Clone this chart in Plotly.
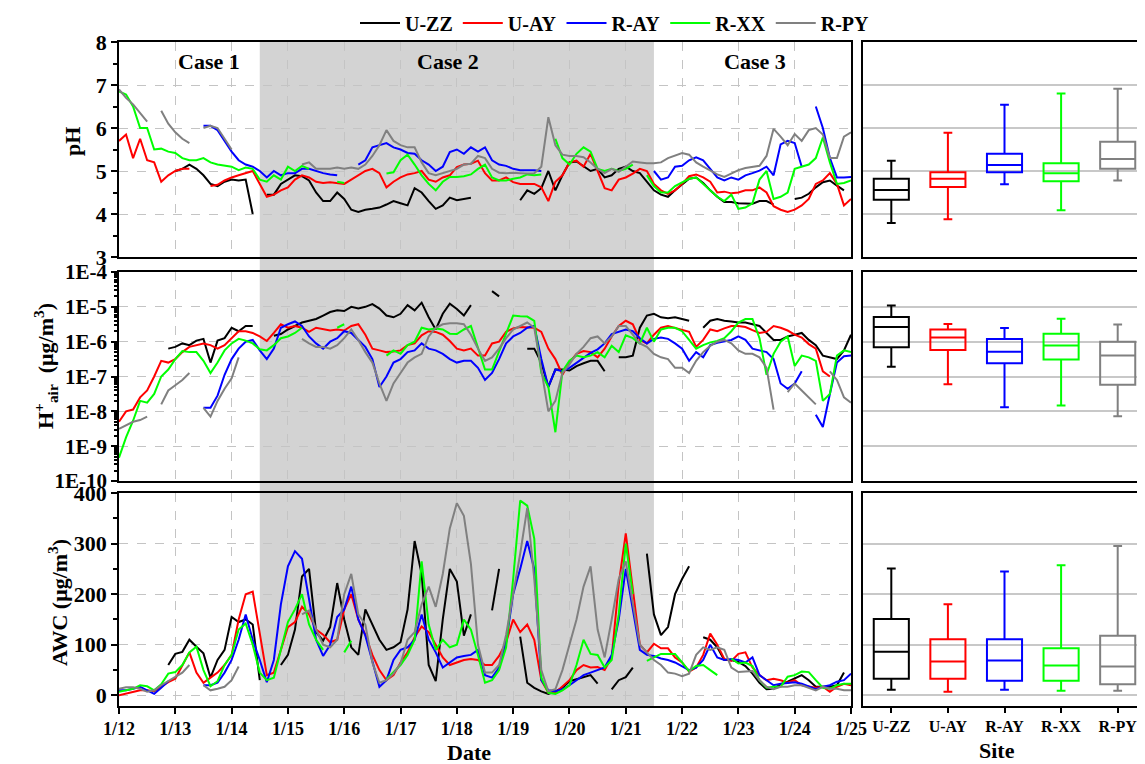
import plotly.graph_objects as go

N = None
W, H = 1145, 764
PAGE_OFF = 8  # the page body adds an 8px margin around the figure
FONT = "Liberation Serif"

date_labels = ["1/12", "1/13", "1/14", "1/15", "1/16", "1/17", "1/18",
               "1/19", "1/20", "1/21", "1/22", "1/23", "1/24", "1/25"]
sites = ["U-ZZ", "U-AY", "R-AY", "R-XX", "R-PY"]
site_colors = ["#000000", "#ff0000", "#0000ff", "#00ff00", "#808080"]
step_hours = 3  # sampling step of the series below (one row = one day)

# ---------------- pH (3-hourly, from 1/12 00:00 to 1/25 00:00) ----------------
ph_uzz = [N, N, N, N, N, N, N, N,
          5.0, 5.05, 5.15, 5.05, 4.9, 4.7, 4.65, 4.75,
          4.8, 4.78, 4.8, 4.0, N, 4.45, 4.45, 4.7,
          4.8, 4.9, 4.88, 4.78, 4.5, 4.3, 4.3, 4.5,
          4.35, 4.1, 4.05, 4.1, 4.12, 4.15, 4.22, 4.3,
          4.25, 4.2, 4.6, 4.5, 4.3, 4.12, 4.2, 4.38,
          4.32, 4.35, 4.38, N, N, N, N, N,
          N, 4.32, 4.55, 4.47, 4.6, 5.0, 4.55, 4.9,
          5.2, 5.22, 5.1, 5.0, 5.05, 4.85, 4.9, 5.05,
          5.1, 5.0, 4.95, 4.75, 4.55, 4.45, 4.4, 4.55,
          4.68, 4.82, 4.85, 4.72, 4.55, 4.4, 4.28, 4.28,
          4.25, 4.24, 4.24, 4.3, 4.3, 4.22, N, N,
          4.35, 4.38, 4.47, 4.62, 4.74, 4.78, 4.66, 4.55,
          N]
ph_uay = [5.7, 5.85, 5.3, 5.75, 5.25, 5.2, 4.75, 4.9,
          5.0, 5.05, 5.05, N, N, 4.65, 4.68, 4.78,
          4.85, 4.9, 4.95, 5.0, 4.7, 4.4, 4.45, 4.55,
          4.62, 4.8, 4.9, 4.85, 4.75, 4.72, 4.74, 4.72,
          4.7, 4.8, 4.9, 5.0, 5.05, 4.95, 4.62, 4.75,
          4.85, 4.92, 4.95, 5.0, 4.8, 4.75, 4.85, 4.9,
          5.09, 5.15, 5.17, 5.24, 4.95, 4.78, 4.78, 4.85,
          4.74, 4.7, 4.7, 4.7, 4.62, 4.3, 4.75, 4.9,
          5.2, 5.24, 5.1, 5.4, 5.0, 4.6, 4.55, 4.8,
          4.85, 4.94, 5.05, 5.0, 4.7, 4.55, 4.47, 4.55,
          4.7, 4.88, 4.92, 4.85, 4.75, 4.5, 4.52, 4.48,
          4.5, 4.55, 4.55, 4.62, 4.5, 4.18, 4.1, 4.05,
          4.1, 4.2, 4.35, 4.7, 4.78, 4.95, 4.7, 4.2,
          4.35]
ph_ray = [N, N, N, N, N, N, N, N,
          N, N, N, N, 6.05, 6.05, 5.95, 5.7,
          5.45, 5.25, 5.15, 5.1, 5.0, 4.85, 5.0, 4.9,
          4.95, 4.95, 5.05, 5.05, 5.0, 4.95, 4.92, 4.9,
          N, N, 5.15, 5.25, 5.55, 5.6, 5.65, 5.55,
          5.5, 5.42, 5.4, 5.25, 5.15, 5.0, 5.1, 5.44,
          5.5, 5.4, 5.55, 5.45, 5.55, 5.25, 5.15, 5.12,
          5.05, 5.02, 5.02, 5.02, 5.0, N, N, N,
          N, N, N, N, N, N, N, N,
          N, N, N, N, 5.0, 4.8, 4.85, 5.1,
          5.12, 5.25, 5.32, 5.25, 5.05, 4.85, 4.78, 4.85,
          4.8, 4.9, 4.95, 5.01, 5.1, 4.9, 5.62, 5.7,
          5.65, 5.1, N, 6.5, 6.0, 5.3, 4.85, 4.85,
          4.86]
ph_rxx = [6.85, 6.78, 6.5, 6.0, 6.0, 5.5, 5.52, 5.45,
          5.42, 5.3, 5.25, 5.25, 5.3, 5.2, 5.15, 5.12,
          5.1, 5.02, 5.08, 5.05, 4.8, 4.75, 4.9, 4.8,
          5.1, 5.0, 5.12, 5.05, N, N, N, 4.75,
          4.72, N, N, N, N, N, 4.94, 4.97,
          5.25, 5.38, 5.15, 4.9, 4.7, 4.55, 4.75, 4.86,
          4.86, 4.88, 4.92, 5.05, 5.15, 4.85, 4.78, 4.78,
          4.82, 4.85, 4.92, 4.9, 4.92, N, 5.75, 5.3,
          5.15, 5.4, 5.55, 5.45, 5.05, 5.0, 5.05, 5.0,
          5.05, 5.15, N, 4.9, 4.65, 4.5, 4.5, 4.65,
          4.74, 4.82, 4.85, 4.7, 4.55, 4.4, 4.3, 4.45,
          4.12, 4.15, 4.25, 4.8, 5.0, 4.35, 4.4, 4.5,
          5.05, 5.1, 5.15, 5.3, 5.78, 5.2, 4.7, 4.72,
          4.78]
ph_rpy = [6.9, 6.7, 6.55, 6.35, 6.15, N, 6.4, 6.1,
          5.9, 5.75, 5.65, N, 6.0, 6.05, 6.0, 5.75,
          5.5, N, N, N, N, N, N, N,
          N, N, 5.15, 5.2, 5.05, 5.05, 5.05, 5.08,
          5.05, 5.08, 5.05, 5.15, 5.35, 5.6, 5.95, 5.7,
          5.6, 5.55, 5.55, 5.2, 4.95, 4.9, 4.95, 5.0,
          5.05, 5.15, 5.17, 5.35, 5.3, 5.05, 4.96, 4.95,
          4.96, 4.95, 4.94, 4.95, 5.1, 6.25, 5.6, 5.38,
          5.35, 5.35, 5.32, 5.2, 5.05, 4.95, 5.05, 4.98,
          5.1, 5.22, 5.2, 5.18, 5.18, 5.2, 5.3, 5.36,
          5.42, 5.38, 5.2, 5.1, 5.0, 4.92, 4.86, 4.95,
          5.02, 5.07, 5.1, 5.12, 5.35, 5.98, 5.8, 5.6,
          5.86, 5.7, 5.95, 6.0, 5.85, 5.3, 5.3, 5.8,
          5.9]

# ---------------- H+air, log10(ug/m3) ----------------
hair_log_uzz = [N, N, N, N, N, N, N, -6.2,
                -6.15, -6.05, -6.1, -5.97, -5.92, -6.6, -5.97, -5.9,
                -5.6, -5.7, -5.55, -5.55, N, N, -5.83, -5.78,
                -5.65, -5.55, -5.45, -5.4, -5.35, -5.25, -5.15, -5.1,
                -5.12, -5.0, -5.05, -5.0, -4.92, -5.05, -5.25, -5.3,
                -5.2, -4.95, -5.1, -4.88, -5.3, -5.65, -5.2, -4.91,
                -5.06, -5.25, -4.95, N, N, -4.55, -4.7, N,
                N, N, -6.2, -6.2, -6.6, -7.3, -6.8, -6.8,
                -6.83, -6.7, -6.62, -6.55, -6.55, -6.85, N, -6.45,
                -6.45, -6.4, -5.6, -5.25, -5.2, -5.3, -5.33, -5.3,
                -5.35, -5.4, N, -5.6, -5.4, -5.35, -5.4, -5.42,
                -5.45, -5.45, -5.5, -5.55, -5.75, -5.95, -5.95, -5.85,
                -5.8, -5.75, -5.95, -6.1, -6.4, -6.45, -6.5, -6.25,
                -5.8]
hair_log_uay = [-8.3, -8.0, -7.95, -7.6, -7.4, -7.0, -6.55, -6.6,
                -6.5, -6.3, -6.15, -6.1, -6.05, -6.1, -6.2, -6.1,
                -5.9, -5.7, -5.7, -5.75, -5.85, -5.98, -5.75, -5.5,
                -5.6, -5.55, -5.6, -5.72, -5.6, -5.65, -5.68, -5.65,
                -5.68, -5.55, -5.5, -5.8, -6.2, -6.25, -6.3, -6.28,
                -6.25, -6.1, -6.05, -5.82, -5.7, -5.72, -5.8, -5.98,
                -6.2, -6.25, -6.2, -6.4, -6.4, -6.05, -6.0, -5.72,
                -5.62, -5.58, -5.58, -5.6, -5.72, -6.2, -6.5, -6.95,
                -6.6, -6.35, -6.27, -6.3, -6.45, -6.2, -5.85, -5.55,
                -5.4, -5.5, -5.95, -6.05, -5.8, -5.6, -5.55, -5.6,
                -5.66, -5.72, -6.15, -5.95, -5.65, -5.7, -5.62, -5.55,
                -5.55, -5.58, -5.67, -5.75, -5.72, -5.55, -5.6, -5.68,
                -5.8, -5.88, -6.07, -6.2, -6.85, -7.0, N, N,
                N]
hair_log_ray = [N, N, N, N, N, N, N, N,
                N, N, N, N, -7.9, -7.9, -7.55, -6.95,
                -6.5, -6.2, -6.0, -5.95, -6.25, -6.5, -6.2, -5.6,
                -5.5, -5.42, -5.55, -5.85, -6.05, -6.2, -6.0, -5.9,
                -5.7, -5.75, -5.95, -6.15, -6.5, -7.3, -7.0, -6.6,
                -6.5, -6.3, -6.25, -6.05, -6.2, -6.25, -6.35, -6.5,
                -6.6, -6.55, -6.55, -6.75, -7.1, -6.9, -6.5, -6.05,
                -5.85, -5.75, -5.6, -5.55, -6.5, -7.3, -6.8, -6.85,
                -6.75, -6.6, -6.45, -6.32, -6.22, -6.05, -5.78, -5.72,
                -5.65, -5.7, -5.9, -6.05, -5.92, -5.88, -5.92, -6.05,
                -6.2, -6.55, -6.3, -6.45, -6.1, -6.03, -6.0, -5.95,
                -5.85, -5.95, -6.2, -6.25, -6.3, -6.5, -7.2, -7.35,
                -7.2, -6.85, N, -8.1, -8.45, -7.5, -6.6, -6.42,
                -6.4]
hair_log_rxx = [-9.33, -8.75, -8.27, -7.7, -7.75, -7.5, -7.0, -6.8,
                -6.5, -6.27, -6.3, -6.3, -6.55, -6.9, -6.6, -6.25,
                -6.05, -5.92, -5.97, -6.05, -6.22, -6.25, -6.1, -5.9,
                -5.85, -5.75, -5.6, N, N, N, N, -5.6,
                -5.5, N, N, N, N, N, -6.4, -6.25,
                -6.35, -6.1, -6.0, -5.6, -5.65, -5.62, -5.65, -5.77,
                -5.78, -5.65, -5.55, -6.15, -6.8, -6.8, -6.3, -5.8,
                -5.25, -5.27, -5.28, -5.4, -6.9, -7.3, -8.6, -6.85,
                -6.55, -6.4, -6.45, -6.4, -6.3, -6.45, -6.12, -6.3,
                -5.82, -5.9, -6.05, -5.6, -6.0, -5.65, -5.6, -5.6,
                -5.7, -5.95, -6.2, -6.1, -6.02, -5.98, -5.9, -5.7,
                -5.45, -5.35, -5.35, -5.9, -6.95, -6.35, -6.0, -5.85,
                -6.7, -6.4, -6.45, -6.55, -7.7, -7.5, -6.4, -6.25,
                -6.3]
hair_log_rpy = [-8.5, -8.4, -8.3, -8.25, -8.15, N, -7.8, -7.4,
                -7.25, -7.1, -6.9, N, -7.9, -8.15, -7.7, -7.35,
                -7.05, -6.45, N, N, N, N, N, N,
                N, N, -5.92, -6.05, -6.15, -6.15, -6.2, -6.1,
                -5.9, -5.65, -5.95, -6.3, -6.6, -7.2, -7.7, -7.2,
                -6.9, -6.6, -6.45, -6.35, -5.85, -5.6, -5.5, -5.47,
                -5.47, -5.5, -5.8, -6.2, -6.55, -6.45, -6.2, -5.9,
                -5.65, -5.55, -5.45, -5.6, -6.8, -8.0, -7.7, -6.9,
                -6.65, -6.35, -6.15, -5.9, -5.85, -6.05, -5.85, -5.55,
                -5.55, -5.8, -6.05, -6.15, -6.35, -6.45, -6.5, -6.75,
                -6.75, -6.9, -6.55, -6.3, -6.12, -6.0, -5.95, -6.05,
                -6.25, -6.35, -6.35, -6.45, -6.75, -7.95, N, -7.45,
                -7.2, -7.4, -7.6, -7.8, N, -6.85, -7.1, -7.6,
                -7.75]

# ---------------- AWC (ug/m3) ----------------
awc_uzz = [N, N, N, N, N, N, N, 60,
           82, 86, 110, 96, 83, 35, 70, 90,
           155, 145, 150, 140, 30, N, N, 60,
           80, 130, 235, 250, 125, 108, 135, 222,
           150, 95, 80, 170, 140, 110, 90, 95,
           105, 170, 305, 240, 60, 28, 150, 250,
           225, 118, 160, N, N, 168, 250, N,
           N, 116, 25, 15, 8, 3, 8, 15,
           28, 32, 36, 40, 23, N, 12, 30,
           36, 55, N, 280, 160, 119, 135, 200,
           230, 255, N, 115, 110, 95, 70, 70,
           66, 58, 43, 25, 12, 13, 22, 27,
           33, 40, 30, 17, 17, 17, 20, 45,
           N]
awc_uay = [0, 3, 7, 10, 10, 8, 17, 26,
           33, 60, 85, 45, 25, 35, 45, 60,
           80, 150, 200, 205, 120, 40, 45, 90,
           135, 145, 175, 160, 130, 120, 105, 110,
           170, 200, 150, 120, 80, 50, 30, 40,
           65, 85, 115, 136, 125, 100, 75, 60,
           65, 70, 72, 70, 60, 60, 78, 105,
           150, 125, 140, 110, 30, 5, 5, 18,
           30, 50, 60, 55, 56, 50, 75, 220,
           320, 210, 100, 85, 102, 93, 93, 75,
           65, 47, 55, 80, 122, 100, 72, 68,
           82, 85, 55, 40, 30, 33, 30, 25,
           30, 20, 17, 15, 17, 7, 17, 23,
           20]
awc_ray = [10, 10, 13, 17, 10, 3, 15, 28,
           N, N, N, N, 20, 20, 25, 45,
           70, 110, 160, 110, 70, 26, 70, 180,
           255, 285, 270, 190, 110, 78, 100, 155,
           170, 215, 150, 118, 70, 17, 30, 70,
           90, 95, 110, 160, 110, 85, 55, 65,
           75, 78, 80, 90, 40, 35, 55, 105,
           200, 250, 305, 250, 30, 10, 8, 12,
           20, 30, 40, 45, 50, 55, 80, 150,
           250, 170, 90, 80, 78, 73, 70, 65,
           58, 50, 55, 70, 100, 75, 70, 72,
           70, 65, 75, 40, 30, 20, 23, 24,
           26, 23, 17, 12, 17, 20, 27, 30,
           43]
awc_rxx = [7, 10, 13, 20, 18, 10, 22, 43,
           46, 60, 85, 96, 50, 18, 28, 60,
           80, 130, 142, 100, 45, 30, 35, 90,
           145, 170, 200, 140, 110, 90, N, N,
           85, 108, N, N, N, N, 32, 45,
           60, 80, 110, 265, 140, 90, 110, 95,
           100, 150, 130, 80, 25, 30, 50, 95,
           230, 385, 375, 310, 35, 5, 3, 10,
           20, 60, 110, 82, 80, 55, 70, 160,
           300, 200, N, 68, 75, 82, 82, 82,
           65, 48, 58, 60, 50, 40, N, 73,
           63, 65, 58, 30, 15, 17, 17, 37,
           40, 47, 46, 30, 15, 13, 20, 23,
           23]
awc_rpy = [13, 16, 16, 13, 7, 10, 20, 28,
           36, 45, 60, N, 20, 10, 13, 17,
           30, 57, N, N, N, N, N, N,
           N, N, 160, 168, 130, 100, 95, 110,
           200, 240, 160, 140, 65, 25, 30, 43,
           63, 110, 125, 180, 215, 175, 240, 330,
           380, 355, 260, 100, 45, 45, 60, 120,
           200, 280, 370, 230, 50, 8, 12, 50,
           100, 150, 215, 255, 130, 75, 150, 230,
           265, 180, 100, 85, 70, 60, 45, 43,
           38, 43, 80, 95, 90, 95, 90, 55,
           46, 47, 48, 30, 17, 12, 17, 17,
           20, 20, 15, 10, 17, 13, 13, 10,
           10]

# ---------------- box statistics (lower whisker, Q1, median, Q3, upper whisker) -------
ph_box_low = [3.79, 3.88, 4.69, 4.09, 4.78]
ph_box_q1 = [4.33, 4.63, 4.97, 4.76, 5.05]
ph_box_med = [4.56, 4.82, 5.14, 4.95, 5.28]
ph_box_q3 = [4.82, 4.97, 5.40, 5.18, 5.68]
ph_box_high = [5.24, 5.89, 6.54, 6.80, 6.91]

hair_box_low_log = [-6.72, -7.22, -7.88, -7.83, -8.14]
hair_box_q1_log = [-6.16, -6.24, -6.62, -6.51, -7.24]
hair_box_med_log = [-5.58, -5.88, -6.29, -6.11, -6.40]
hair_box_q3_log = [-5.29, -5.65, -5.92, -5.77, -6.00]
hair_box_high_log = [-4.96, -5.49, -5.61, -5.34, -5.51]

awc_box_low = [11, 7, 11, 9, 9]
awc_box_q1 = [33, 33, 29, 29, 22]
awc_box_med = [86, 67, 69, 59, 57]
awc_box_q3 = [151, 111, 111, 93, 118]
awc_box_high = [251, 180, 245, 257, 295]

case_labels = ["Case 1", "Case 2", "Case 3"]
case_centers = [1.6, 5.85, 11.3]
case2_span = [2.5, 9.5]

hair_ticks = ["1E-10", "1E-9", "1E-8", "1E-7", "1E-6", "1E-5", "1E-4"]

# ------------------------------------------------------------------------------
def exp10(vals):
    return [None if v is None else 10 ** v for v in vals]


def xp(px):
    """page pixel x -> paper fraction"""
    return (px - PAGE_OFF) / W


def yp(py):
    """page pixel y (from top) -> paper fraction"""
    return 1 - (py - PAGE_OFF) / H


ph_series = [ph_uzz, ph_uay, ph_ray, ph_rxx, ph_rpy]
hair_series = [exp10(s) for s in [hair_log_uzz, hair_log_uay, hair_log_ray,
                                  hair_log_rxx, hair_log_rpy]]
awc_series = [awc_uzz, awc_uay, awc_ray, awc_rxx, awc_rpy]

n_pts = len(ph_uzz)
t_days = [k * step_hours / 24 for k in range(n_pts)]

fig = go.Figure()

for i, site in enumerate(sites):
    c = site_colors[i]
    fig.add_trace(go.Scatter(x=t_days, y=ph_series[i], mode="lines", name=site,
                             line=dict(color=c, width=2), legendgroup=site,
                             xaxis="x", yaxis="y"))
    fig.add_trace(go.Scatter(x=t_days, y=hair_series[i], mode="lines", name=site,
                             line=dict(color=c, width=2), legendgroup=site,
                             showlegend=False, xaxis="x3", yaxis="y3"))
    fig.add_trace(go.Scatter(x=t_days, y=awc_series[i], mode="lines", name=site,
                             line=dict(color=c, width=2), legendgroup=site,
                             showlegend=False, xaxis="x5", yaxis="y5"))

box_sets = [
    ("x2", "y2", ph_box_low, ph_box_q1, ph_box_med, ph_box_q3, ph_box_high),
    ("x4", "y4", exp10(hair_box_low_log), exp10(hair_box_q1_log),
     exp10(hair_box_med_log), exp10(hair_box_q3_log), exp10(hair_box_high_log)),
    ("x6", "y6", awc_box_low, awc_box_q1, awc_box_med, awc_box_q3, awc_box_high),
]
for xa, ya, lo, q1, med, q3, hi in box_sets:
    for i, site in enumerate(sites):
        fig.add_trace(go.Box(x=[site], lowerfence=[lo[i]], q1=[q1[i]], median=[med[i]],
                             q3=[q3[i]], upperfence=[hi[i]], name=site,
                             line=dict(color=site_colors[i], width=2),
                             fillcolor="rgba(0,0,0,0)", whiskerwidth=0.25,
                             width=0.62, boxpoints=False, showlegend=False,
                             hoverinfo="skip", xaxis=xa, yaxis=ya))

LEFT_X = [xp(119), xp(851)]
RIGHT_X = [xp(863), xp(1146)]
ROW_PH = [yp(257), yp(42)]
ROW_H = [yp(481), yp(272)]
ROW_AWC = [yp(706), yp(493)]

tick_font = dict(family=FONT, size=22, color="black", weight="bold")
frame = dict(showline=True, linecolor="black", linewidth=1.5, mirror=True,
             zeroline=False, automargin=False)
dash_grid = dict(showgrid=True, gridcolor="#c4c4c4", griddash="dash", gridwidth=1)
solid_grid = dict(showgrid=True, gridcolor="#c8c8c8", gridwidth=1.5)


def left_x(anchor, labels):
    d = dict(domain=LEFT_X, range=[0, 13], tickmode="array",
             tickvals=list(range(len(date_labels))), ticktext=date_labels,
             anchor=anchor, **frame, **dash_grid)
    if labels:
        d.update(ticks="outside", ticklen=6, tickwidth=1.5, tickcolor="black",
                 tickfont=dict(family=FONT, size=18, color="black", weight="bold"))
    else:
        d.update(showticklabels=False, ticks="")
    return d


def right_x(anchor, labels):
    d = dict(domain=RIGHT_X, type="category", categoryorder="array",
             categoryarray=sites, range=[-0.5, 4.5], anchor=anchor,
             showgrid=False, **frame)
    if labels:
        d.update(ticks="outside", ticklen=5, tickwidth=1.5, tickcolor="black",
                 tickfont=dict(family=FONT, size=16, color="black", weight="bold"))
    else:
        d.update(showticklabels=False, ticks="")
    return d


fig.update_layout(
    width=W, height=H,
    margin=dict(l=0, r=0, t=0, b=0, autoexpand=False),
    paper_bgcolor="white", plot_bgcolor="rgba(0,0,0,0)",
    font=dict(family=FONT, color="black"),
    showlegend=True,
    legend=dict(orientation="h", x=xp(615), xanchor="center", y=yp(23),
                yanchor="middle", bgcolor="rgba(0,0,0,0)",
                font=dict(family=FONT, size=20, color="black", weight="bold"),
                itemwidth=40, tracegroupgap=0),
    xaxis=left_x("y", False),
    xaxis3=left_x("y3", False),
    xaxis5=left_x("y5", True),
    xaxis2=right_x("y2", False),
    xaxis4=right_x("y4", False),
    xaxis6=right_x("y6", True),
    yaxis=dict(domain=ROW_PH, range=[3, 8], tickvals=[3, 4, 5, 6, 7, 8],
               anchor="x", ticks="outside", ticklen=6, tickwidth=1.5, tickcolor="black",
               minor=dict(dtick=0.5, ticks="outside", ticklen=4, tickcolor="black",
                          showgrid=False),
               tickfont=tick_font, **frame, **dash_grid),
    yaxis3=dict(domain=ROW_H, type="log", range=[-10, -4],
                tickvals=[1e-10, 1e-9, 1e-8, 1e-7, 1e-6, 1e-5, 1e-4],
                ticktext=hair_ticks, anchor="x3", ticks="outside", ticklen=6,
                tickwidth=1.5, tickcolor="black",
                minor=dict(dtick="D1", ticks="outside", ticklen=3, tickcolor="black",
                           showgrid=False),
                tickfont=dict(family=FONT, size=21, color="black", weight="bold"),
                **frame, **dash_grid),
    yaxis5=dict(domain=ROW_AWC, range=[-21, 400], tickvals=[0, 100, 200, 300, 400],
                anchor="x5", ticks="outside", ticklen=6, tickwidth=1.5, tickcolor="black",
                minor=dict(dtick=50, ticks="outside", ticklen=4, tickcolor="black",
                           showgrid=False),
                tickfont=tick_font, **frame, **dash_grid),
    yaxis2=dict(domain=ROW_PH, range=[3, 8], tickvals=[4, 5, 6, 7], anchor="x2",
                side="right", ticks="inside", ticklen=5, tickcolor="black",
                showticklabels=False, **frame, **solid_grid),
    yaxis4=dict(domain=ROW_H, type="log", range=[-10, -4],
                tickvals=[1e-9, 1e-8, 1e-7, 1e-6, 1e-5], anchor="x4",
                side="right", ticks="inside", ticklen=5, tickcolor="black",
                showticklabels=False, **frame, **solid_grid),
    yaxis6=dict(domain=ROW_AWC, range=[-21, 400], tickvals=[0, 100, 200, 300],
                anchor="x6", side="right", ticks="inside", ticklen=5, tickcolor="black",
                showticklabels=False, **frame, **solid_grid),
)

# Case 2 shading across all three time-series panels
fig.add_shape(type="rect", xref="x", yref="paper", x0=case2_span[0], x1=case2_span[1],
              y0=ROW_AWC[0], y1=ROW_PH[1], fillcolor="#d3d3d3",
              line=dict(width=0), layer="below")

bold22 = dict(family=FONT, size=22, color="black", weight="bold")
for lab, cx in zip(case_labels, case_centers):
    fig.add_annotation(x=cx, xref="x", y=yp(62), yref="paper", text=lab,
                       showarrow=False, font=bold22, xanchor="center", yanchor="middle")


def title(text, px, py, angle=0):
    fig.add_annotation(x=xp(px), y=yp(py), xref="paper", yref="paper", text=text,
                       textangle=angle, showarrow=False, font=bold22,
                       xanchor="center", yanchor="middle")


title("pH", 72, 142, -90)
title("H<sup>+</sup><sub>air</sub>  (μg/m<sup>3</sup>)", 45, 366, -90)
title("AWC (μg/m<sup>3</sup>)", 58, 603, -90)
title("Date", 469, 752)
title("Site", 997, 750)

fig.write_html("out.html")
